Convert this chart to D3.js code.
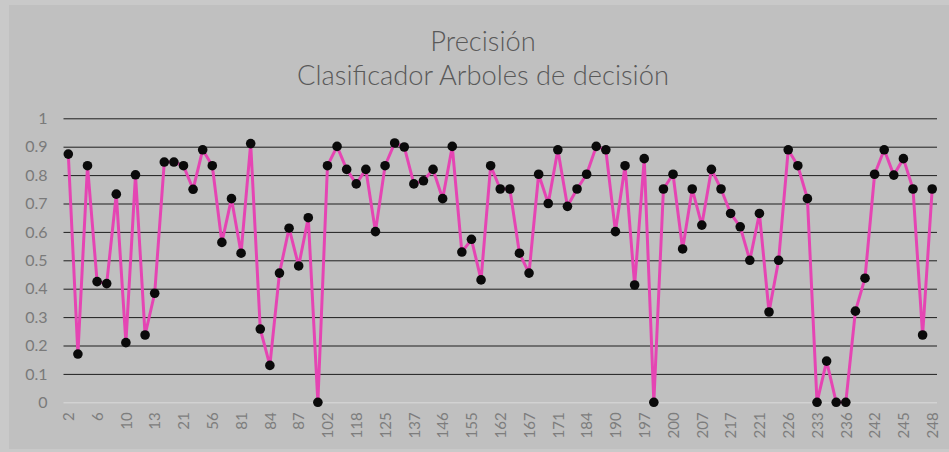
<!DOCTYPE html>
<html>
<head>
<meta charset="utf-8">
<script src="https://cdn.jsdelivr.net/npm/d3@7"></script>
<style>
  body { margin: 0; background: #c0c0c0; }
  svg { display: block; }
</style>
</head>
<body>
<div id="chart"></div>
<script>
// precision per run (91 points)
let values = [
  0.874, 0.170, 0.833, 0.425, 0.418, 0.733, 0.210, 0.801, 0.237, 0.384,
  0.846, 0.846, 0.833, 0.750, 0.889, 0.833, 0.563, 0.717, 0.525, 0.911,
  0.258, 0.130, 0.455, 0.613, 0.480, 0.650, 0.000, 0.833, 0.901, 0.820,
  0.769, 0.820, 0.601, 0.833, 0.913, 0.899, 0.769, 0.780, 0.820, 0.717,
  0.901, 0.529, 0.574, 0.431, 0.833, 0.751, 0.751, 0.525, 0.455, 0.803,
  0.700, 0.889, 0.690, 0.751, 0.803, 0.901, 0.889, 0.601, 0.833, 0.413,
  0.858, 0.000, 0.751, 0.803, 0.540, 0.751, 0.624, 0.820, 0.751, 0.665,
  0.618, 0.500, 0.665, 0.318, 0.500, 0.889, 0.833, 0.717, 0.000, 0.145,
  0.000, 0.000, 0.321, 0.437, 0.803, 0.889, 0.800, 0.858, 0.751, 0.237,
  0.751
]
// only every third category label is shown
let xLabels = ['2','6','10','13','21','56','81','84','87','102','118','125','137','146','155','162',
  '167','171','184','190','197','200','207','217','221','226','233','236','242','245','248']
let yTicks = [0, 0.1, 0.2, 0.3, 0.4, 0.5, 0.6, 0.7, 0.8, 0.9, 1]
let titleLines = ['Precisión', 'Clasificador Arboles de decisión']

let W = 949, H = 452
let plotLeft = 63.5, plotRight = 937, plotTop = 118.3, plotBottom = 402.3
let font = 'Lato, Carlito, "Open Sans", sans-serif'

let svg = d3.select('#chart').append('svg').attr('width', W).attr('height', H)

// chart background with the light edge strips
svg.append('rect').attr('width', W).attr('height', H).attr('fill', '#c9c9c9')
svg.append('rect').attr('x', 9).attr('y', 5).attr('width', W - 9).attr('height', H - 8).attr('fill', '#c0c0c0')

let x = d3.scalePoint().domain(d3.range(values.length)).range([plotLeft, plotRight]).padding(0.5)
let y = d3.scaleLinear().domain([0, 1]).range([plotBottom, plotTop])

// gridlines + y labels
let yAxis = svg.append('g')
  .attr('transform', `translate(${plotLeft},0)`)
  .call(d3.axisLeft(y).tickValues(yTicks).tickSize(-(plotRight - plotLeft)).tickPadding(16)
    .tickFormat(d => d3.format('.1~f')(d)))
yAxis.select('.domain').remove()
yAxis.selectAll('line')
  .attr('stroke', d => d === 0 ? '#dadada' : '#1e1e1e')
  .attr('stroke-width', 1)
yAxis.selectAll('text')
  .attr('fill', '#7a7a7a')
  .style('font-family', font)
  .style('font-size', '16px')

// x labels, rotated
let xAxis = svg.append('g')
  .attr('transform', `translate(0,${plotBottom})`)
  .call(d3.axisBottom(x).tickValues(d3.range(0, values.length, 3)).tickSize(0)
    .tickFormat((d, i) => xLabels[i]))
xAxis.select('.domain').remove()
xAxis.selectAll('text')
  .attr('transform', 'rotate(-90)')
  .attr('x', -10)
  .attr('y', 0)
  .attr('dy', '0.35em')
  .style('text-anchor', 'end')
  .attr('fill', '#7d7d7d')
  .style('font-family', font)
  .style('font-size', '15px')

// the series
let line = d3.line().x((d, i) => x(i)).y(d => y(d))
svg.append('path')
  .datum(values)
  .attr('d', line)
  .attr('fill', 'none')
  .attr('stroke', '#e545b3')
  .attr('stroke-width', 3)
  .attr('stroke-linejoin', 'round')

svg.selectAll('circle.pt')
  .data(values)
  .enter()
  .append('circle')
  .attr('class', 'pt')
  .attr('cx', (d, i) => x(i))
  .attr('cy', d => y(d))
  .attr('r', 4.8)
  .attr('fill', '#0a0a0a')

// title, sized so the second line is about as wide as in the original
let titles = svg.selectAll('text.title')
  .data(titleLines)
  .enter()
  .append('text')
  .attr('class', 'title')
  .attr('x', 483)
  .attr('y', (d, i) => 51 + i * 34)
  .attr('text-anchor', 'middle')
  .attr('fill', '#595959')
  .style('font-family', font)
  .style('font-weight', 300)
  .style('font-size', '20px')
  .text(d => d)
let w2 = titles.nodes()[1].getComputedTextLength()
titles.style('font-size', (20 * 372 / w2) + 'px')
</script>
</body>
</html>
